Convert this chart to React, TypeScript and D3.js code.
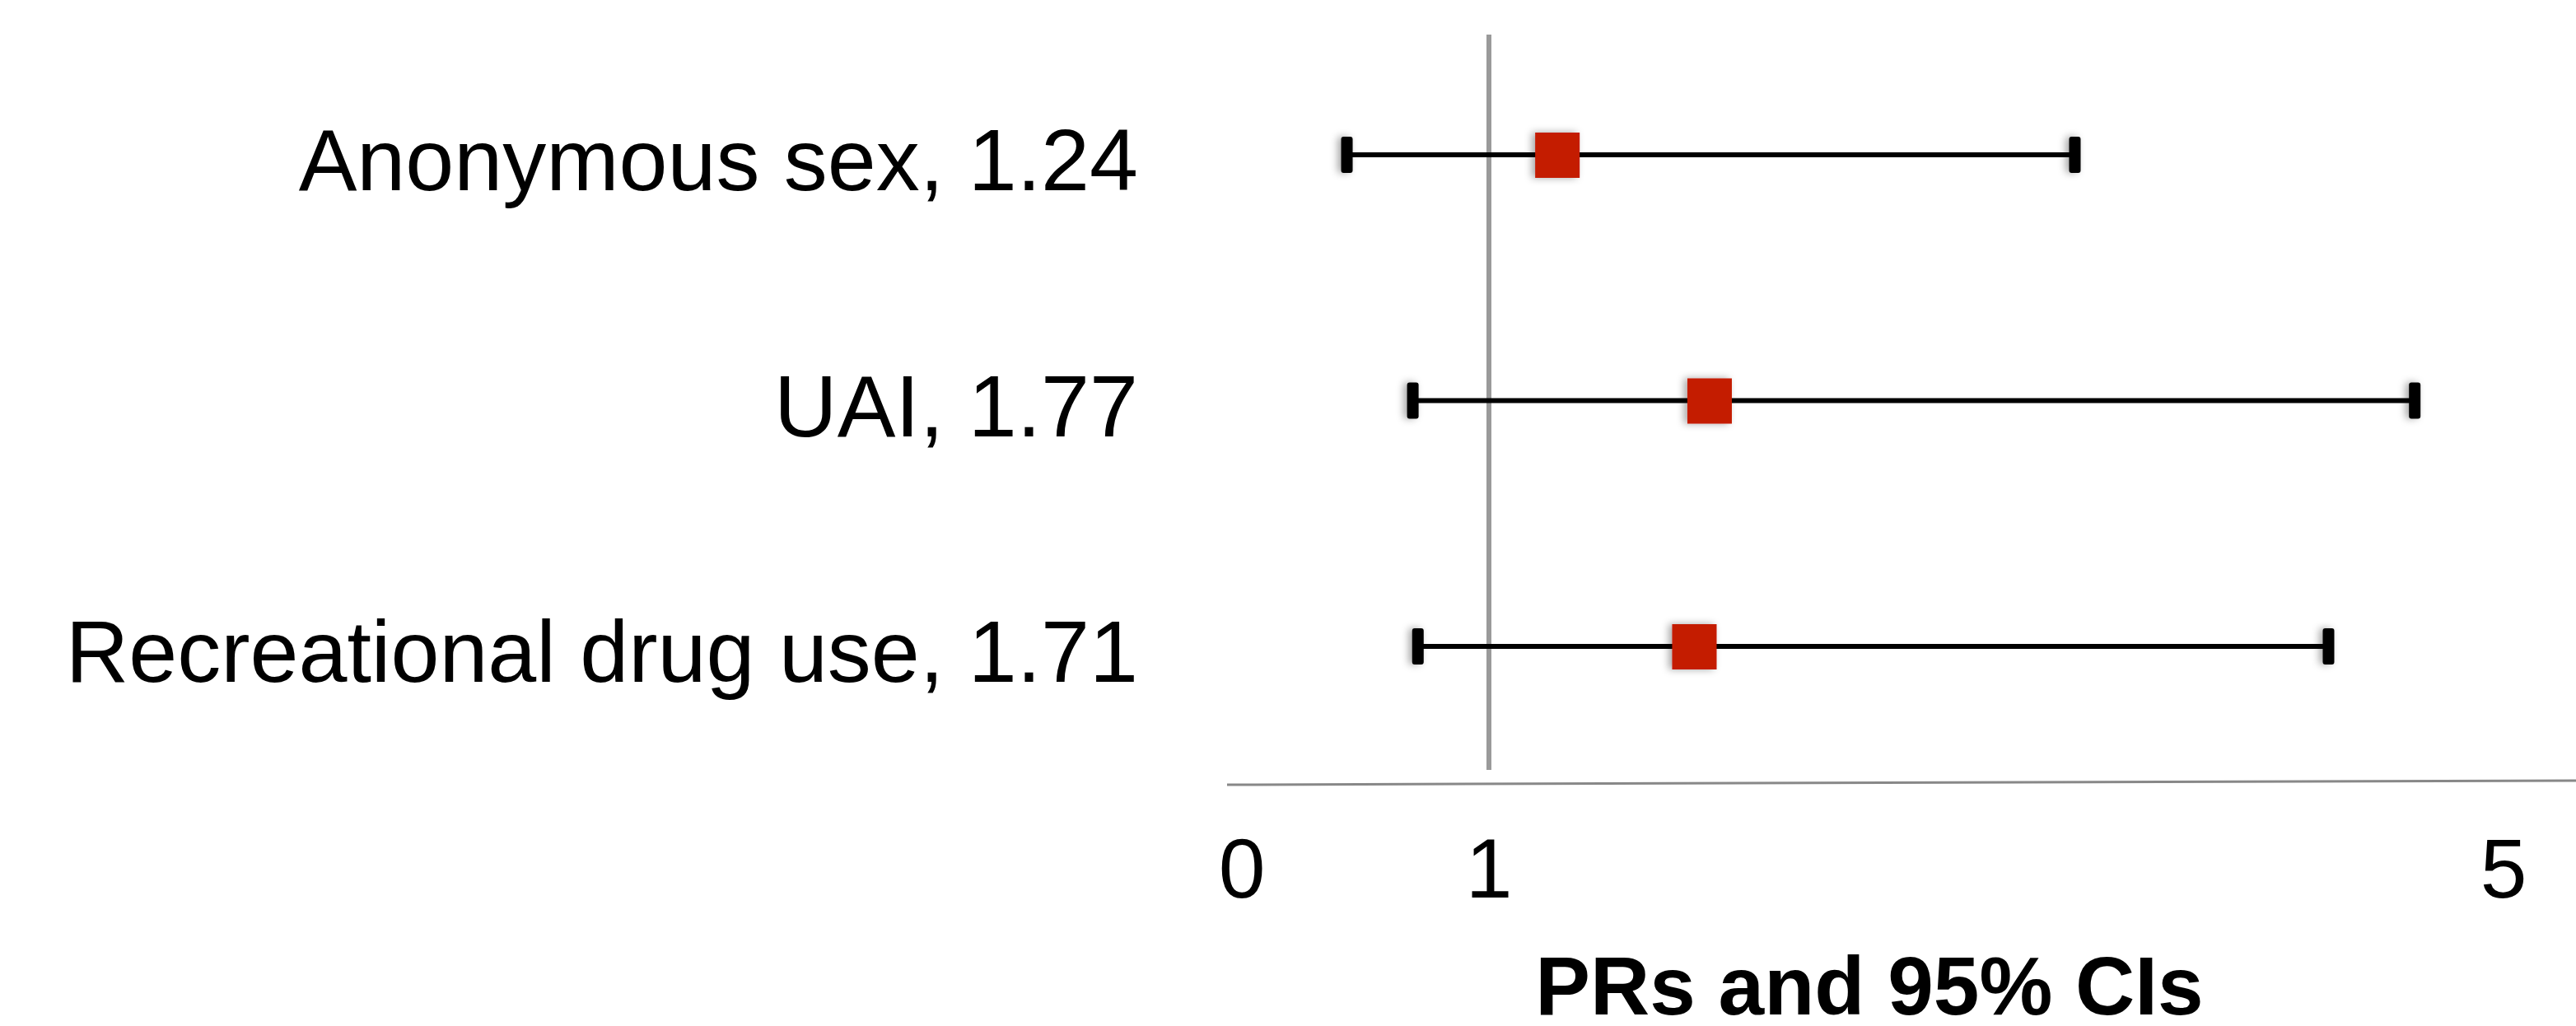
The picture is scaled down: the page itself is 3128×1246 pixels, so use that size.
import React from "react";
import * as d3 from "d3";

// forest plot: prevalence ratios with 95% CIs
const categories = ["Anonymous sex, 1.24", "UAI, 1.77", "Recreational drug use, 1.71"];
// square positions as drawn on the axis
const estimates = [1.27, 1.87, 1.81];
const lowerCI = [0.44, 0.7, 0.72];
const upperCI = [3.31, 4.65, 4.31];
const tickValues = [0, 1, 5];
const axisTitle = "PRs and 95% CIs";

const width = 3128;
const height = 1246;
const font = "'Liberation Sans', Arial, Helvetica, sans-serif";

const App = () => {
  const x = d3.scaleLinear().domain([0, 5]).range([1500, 3040]);
  const y = d3.scalePoint<string>().domain(categories).range([188, 785]);

  const axisY = 951;
  const capH = 44;

  return (
    <svg
      width={width}
      height={height}
      style={{ position: "absolute", left: 0, top: 0, display: "block", background: "#fff" }}
    >
      <defs>
        <filter id="soft" x="-50%" y="-50%" width="200%" height="200%">
          <feDropShadow dx={-4} dy={0} stdDeviation={5} floodColor="#000" floodOpacity={0.35} />
        </filter>
      </defs>

      {/* reference line at 1 */}
      <line x1={x(1)} x2={x(1)} y1={42} y2={935} stroke="#9a9a9a" strokeWidth={6} />

      {/* x axis */}
      <line x1={x(0) - 10} x2={width} y1={axisY + 2} y2={axisY - 3} stroke="#888" strokeWidth={3} />
      {tickValues.map(t => (
        <text
          key={t}
          x={x(t) + (t === 0 ? 8 : 0)}
          y={1090}
          textAnchor="middle"
          fontFamily={font}
          fontSize={102}
          fill="#000"
        >
          {t}
        </text>
      ))}
      <text
        x={(x(0) + x(5)) / 2}
        y={1232}
        textAnchor="middle"
        fontFamily={font}
        fontWeight="bold"
        fontSize={100}
        fill="#000"
      >
        {axisTitle}
      </text>

      {categories.map((c, i) => {
        const cy = y(c) as number;
        return (
          <g key={c}>
            <text x={1382} y={cy + 43} textAnchor="end" fontFamily={font} fontSize={106} fill="#000">
              {c}
            </text>
            <line x1={x(lowerCI[i])} x2={x(upperCI[i])} y1={cy} y2={cy} stroke="#000" strokeWidth={6} />
            <g filter="url(#soft)">
              <rect x={x(lowerCI[i]) - 7} y={cy - capH / 2} width={14} height={capH} rx={3} fill="#000" />
              <rect x={x(upperCI[i]) - 7} y={cy - capH / 2} width={14} height={capH} rx={3} fill="#000" />
              <rect x={x(estimates[i]) - 27} y={cy - 27} width={54} height={55} fill="#C41A00" />
            </g>
          </g>
        );
      })}
    </svg>
  );
};

export default App;
